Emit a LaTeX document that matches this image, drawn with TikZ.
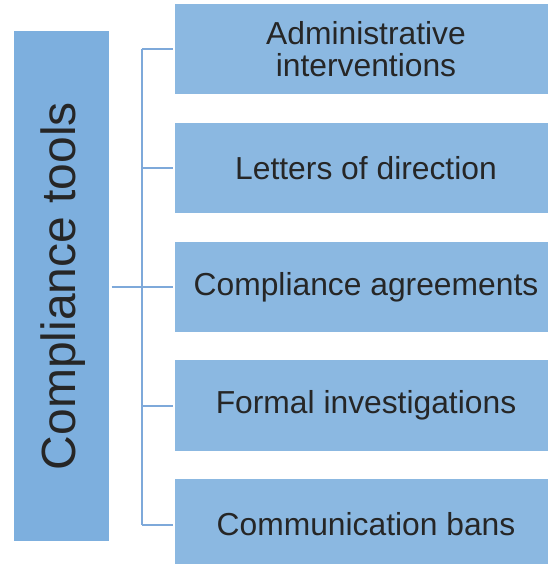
\documentclass[tikz,border=0pt]{standalone}
\usepackage{fontspec}
\setmainfont{Liberation Sans}
\usepackage{xcolor}
\usetikzlibrary{positioning}

\definecolor{toolblue}{RGB}{125,175,222}
\definecolor{itemblue}{RGB}{139,184,225}
\definecolor{linkblue}{RGB}{126,169,218}
\definecolor{inkgray}{RGB}{38,38,38}

\begin{document}
\begin{tikzpicture}[x=1pt,y=1pt,
  toolbox/.style={fill=toolblue, minimum width=95pt, minimum height=510pt, inner sep=0pt,
    text=inkgray, font=\fontsize{48}{50}\selectfont},
  itembox/.style={fill=itemblue, minimum width=382pt, minimum height=90.5pt, inner sep=0pt,
    text=inkgray, align=center, font=\fontsize{31.8}{32.5}\selectfont},
  link/.style={draw=linkblue, line width=2.2pt}]
\useasboundingbox (0,0) rectangle (547,-564);

%Left box
\node [toolbox] (tools) at (61.5,-286) {\hspace{3pt}\rotatebox{90}{Compliance tools}};

%Right boxes
\node [itembox] (admin) at (366,-49) {Administrative\\interventions};
\node [itembox, below=28pt of admin] (letters) {Letters of direction};
\node [itembox, below=28pt of letters] (agree) {Compliance agreements};
\node [itembox, below=28pt of agree] (formal) {Formal investigations};
\node [itembox, below=28pt of formal] (bans) {Communication bans};

%Connectors
\coordinate (top) at ([xshift=-33pt]admin.west);
\coordinate (bottom) at ([xshift=-33pt]bans.west);
\coordinate (hub) at ([xshift=-33pt]agree.west);
\draw [link] ([xshift=2.5pt]tools.east |- hub) -- (hub);
\draw [link] (top) -- (bottom);
\foreach \b in {admin,letters,agree,formal,bans}
  \draw [link] ([xshift=-33pt]\b.west) -- ([xshift=-2pt]\b.west);
\end{tikzpicture}
\end{document}
